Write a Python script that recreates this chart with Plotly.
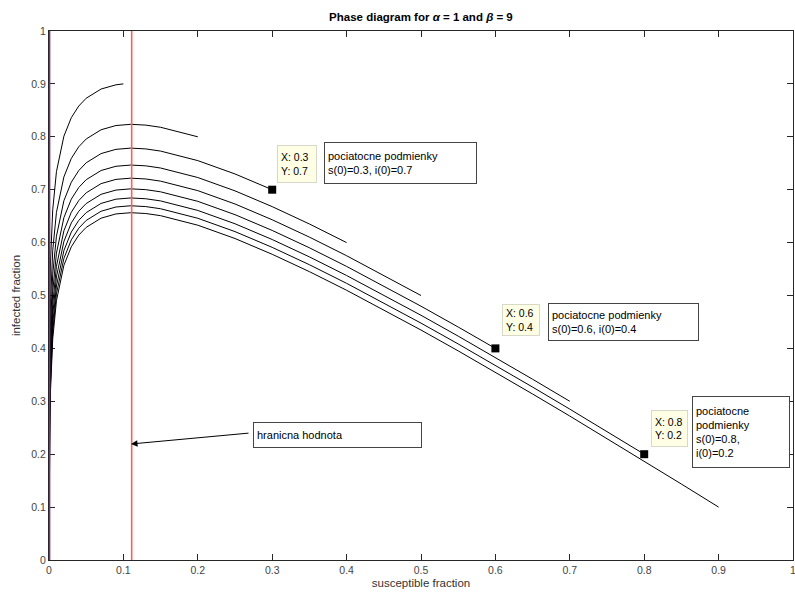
import plotly.graph_objects as go

# initial conditions s(0) and trajectory samples
S0 = [0.1, 0.2, 0.3, 0.4, 0.5, 0.6, 0.7, 0.8, 0.9]
S_END = [1.2e-5, 2.5e-5, 3.7e-5, 4.9e-5, 6.2e-5, 7.4e-5, 8.6e-5, 9.9e-5, 1.11e-4]
S_LOW = [0.0002, 0.0005, 0.001, 0.002, 0.005, 0.01, 0.02, 0.03, 0.04, 0.05, 0.07, 0.09]
S_HIGH = [0.11, 0.13, 0.15, 0.2, 0.25, 0.3, 0.35, 0.4, 0.45, 0.5, 0.55, 0.6,
          0.65, 0.7, 0.75, 0.8, 0.85, 0.9]

I_01 = [0, 0.3093, 0.4108, 0.4873, 0.5633, 0.6621, 0.7341, 0.8011, 0.8362, 0.8582, 0.8729, 0.8903, 0.8983, 0.9]
I_02 = [0, 0.2323, 0.3338, 0.4103, 0.4863, 0.5851, 0.6571, 0.7241, 0.7592, 0.7812, 0.7959, 0.8133, 0.8213,
        0.8236, 0.8221, 0.8180, 0.8000]
I_03 = [0, 0.1873, 0.2888, 0.3653, 0.4413, 0.5401, 0.6121, 0.6791, 0.7142, 0.7362, 0.7509, 0.7683, 0.7763,
        0.7786, 0.7771, 0.7730, 0.7550, 0.7298, 0.7000]
I_04 = [0, 0.1553, 0.2568, 0.3333, 0.4093, 0.5081, 0.5801, 0.6471, 0.6822, 0.7042, 0.7189, 0.7363, 0.7443,
        0.7466, 0.7451, 0.7410, 0.7230, 0.6978, 0.6680, 0.6352, 0.6000]
I_05 = [0, 0.1305, 0.2320, 0.3085, 0.3845, 0.4833, 0.5553, 0.6223, 0.6574, 0.6794, 0.6941, 0.7115, 0.7195,
        0.7218, 0.7203, 0.7162, 0.6982, 0.6730, 0.6432, 0.6104, 0.5752, 0.5383, 0.5000]
I_06 = [0, 0.1103, 0.2118, 0.2883, 0.3643, 0.4631, 0.5351, 0.6021, 0.6372, 0.6592, 0.6739, 0.6913, 0.6993,
        0.7016, 0.7001, 0.6960, 0.6780, 0.6528, 0.6230, 0.5902, 0.5550, 0.5181, 0.4798, 0.4404, 0.4000]
I_07 = [0, 0.0931, 0.1946, 0.2711, 0.3471, 0.4459, 0.5179, 0.5849, 0.6200, 0.6420, 0.6567, 0.6741, 0.6821,
        0.6844, 0.6829, 0.6788, 0.6608, 0.6356, 0.6058, 0.5730, 0.5378, 0.5009, 0.4626, 0.4232, 0.3828,
        0.3417, 0.3000]
I_08 = [0, 0.0783, 0.1798, 0.2563, 0.3323, 0.4311, 0.5031, 0.5701, 0.6052, 0.6272, 0.6419, 0.6593, 0.6673,
        0.6696, 0.6681, 0.6640, 0.6460, 0.6208, 0.5910, 0.5582, 0.5230, 0.4861, 0.4478, 0.4084, 0.3680,
        0.3269, 0.2852, 0.2428, 0.2000]
I_09 = [0, 0.0652, 0.1667, 0.2432, 0.3192, 0.4180, 0.4900, 0.5570, 0.5921, 0.6141, 0.6288, 0.6462, 0.6542,
        0.6565, 0.6550, 0.6509, 0.6329, 0.6077, 0.5779, 0.5451, 0.5099, 0.4730, 0.4347, 0.3953, 0.3549,
        0.3138, 0.2721, 0.2297, 0.1869, 0.1436, 0.1000]
I_ALL = [I_01, I_02, I_03, I_04, I_05, I_06, I_07, I_08, I_09]

THRESHOLD = 0.1111  # alpha / beta
MARK_S = [0.3, 0.6, 0.8]
MARK_I = [0.7, 0.4, 0.2]
TICKS = [0, 0.1, 0.2, 0.3, 0.4, 0.5, 0.6, 0.7, 0.8, 0.9, 1]
TICK_TEXT = ["0", "0.1", "0.2", "0.3", "0.4", "0.5", "0.6", "0.7", "0.8", "0.9", "1"]

FONT = "Liberation Sans, Arial, Helvetica, sans-serif"
AX = "#262626"
TICK_FONT = dict(family=FONT, size=10.5, color="#444444")

fig = go.Figure()

for k, s0 in enumerate(S0):
    if s0 == 0.1:
        xs = [S_END[k]] + S_LOW + [0.1]
    else:
        xs = [S_END[k]] + S_LOW + [s for s in S_HIGH if s <= s0 + 1e-9]
    ys = I_ALL[k]
    fig.add_trace(go.Scatter(x=xs, y=ys, mode="lines",
                             line=dict(color="black", width=1), showlegend=False))

fig.add_trace(go.Scatter(x=[0.0006, 0.0006], y=[0, 1], mode="lines",
                         line=dict(color="#7E2F8E", width=1.8), showlegend=False))
fig.add_trace(go.Scatter(x=[THRESHOLD, THRESHOLD], y=[0, 1], mode="lines",
                         line=dict(color="#ff5c5c", width=1.6), showlegend=False))
fig.add_trace(go.Scatter(x=MARK_S, y=MARK_I, mode="markers",
                         marker=dict(color="black", size=8, symbol="square"),
                         showlegend=False))

axis_common = dict(range=[0, 1], tickmode="array", tickvals=TICKS, ticktext=TICK_TEXT,
                   ticks="inside", ticklen=6, tickcolor=AX, showline=True, linecolor=AX,
                   linewidth=1, mirror="ticks", showgrid=False, zeroline=False,
                   automargin=False, layer="below traces", ticklabeloverflow="allow",
                   tickfont=TICK_FONT)

fig.update_layout(
    width=795, height=598,
    margin=dict(l=49, r=2, t=31, b=38),
    plot_bgcolor="white", paper_bgcolor="white",
    title=dict(text="<b>Phase diagram for <i>α</i> = 1 and <i>β</i> = 9</b>",
               x=0.5295, xanchor="center", y=0.972, yanchor="middle",
               font=dict(family=FONT, size=11.5, color="black")),
    xaxis=dict(**axis_common,
               title=dict(text="susceptible fraction", standoff=4,
                          font=dict(family=FONT, size=11.5, color="#333333"))),
    yaxis=dict(**axis_common,
               title=dict(text="infected fraction", standoff=8,
                          font=dict(family=FONT, size=11.5, color="#333333"))),
)

def box(x, y, text, w, h, bg="white", border="#444444", size=11):
    fig.add_annotation(x=x, y=y, xref="x", yref="y", text=text, showarrow=False,
                       xanchor="center", yanchor="middle", align="left",
                       width=w, height=h, bgcolor=bg, bordercolor=border,
                       borderwidth=1, borderpad=3,
                       font=dict(family=FONT, size=size, color="black"))

TIP_BG = "#FFFFE6"
TIP_BORDER = "#D8D8C8"
box(0.3333, 0.7486, "X: 0.3<br>Y: 0.7", 32, 30, TIP_BG, TIP_BORDER, 10.5)
box(0.6344, 0.4537, "X: 0.6<br>Y: 0.4", 30, 24, TIP_BG, TIP_BORDER, 10.5)
box(0.8340, 0.2486, "X: 0.8<br>Y: 0.2", 29, 29, TIP_BG, TIP_BORDER, 10.5)

box(0.4724, 0.7505, "pociatocne podmienky<br>s(0)=0.3, i(0)=0.7", 145, 34)
box(0.7722, 0.4499, "pociatocne podmienky<br>s(0)=0.6, i(0)=0.4", 143, 30)
box(0.9301, 0.2420, "pociatocne<br>podmienky<br>s(0)=0.8,<br>i(0)=0.2", 90, 64)
box(0.3878, 0.2363, "hranicna hodnota", 161, 18)

fig.add_annotation(x=0.1102, y=0.2193, xref="x", yref="y", ax=119, ay=-11,
                   axref="pixel", ayref="pixel", text="", showarrow=True,
                   arrowhead=2, arrowsize=1.3, arrowwidth=1, arrowcolor="black")

# remove the page's default 8px body margin so the 795x598 figure fills the window exactly
fig.write_html("out.html", config={"displayModeBar": False},
               post_script="document.body.style.margin='0';document.body.style.overflow='hidden';")
